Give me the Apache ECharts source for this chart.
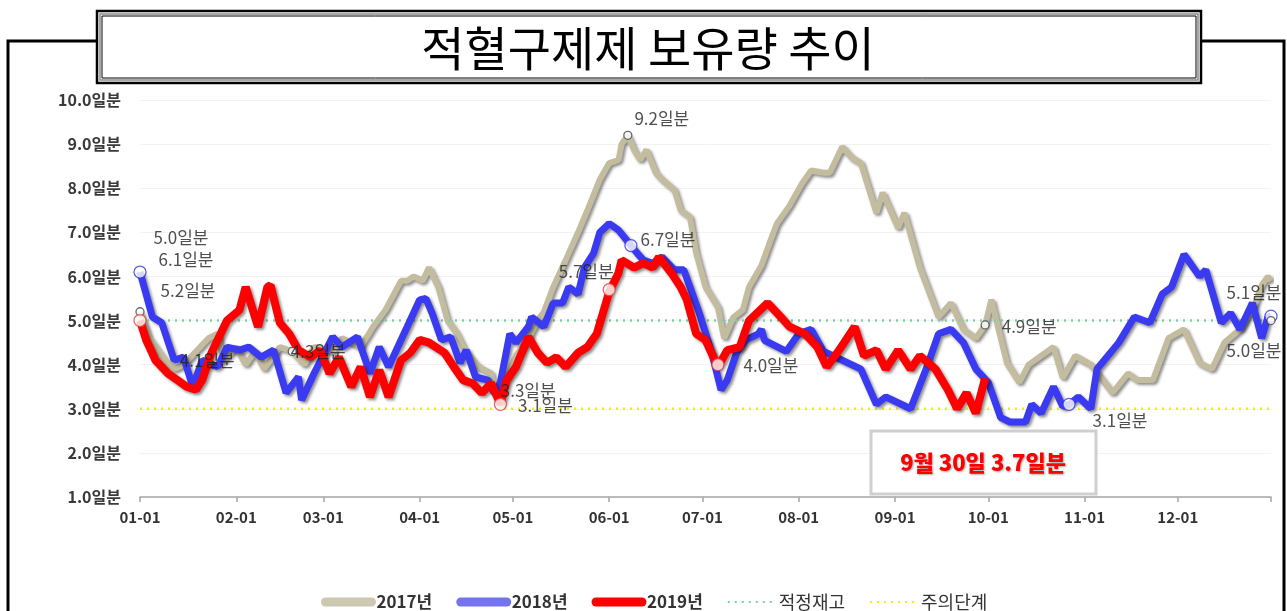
<!DOCTYPE html>
<html><head><meta charset="utf-8">
<script src="https://cdn.jsdelivr.net/npm/echarts@6/dist/echarts.min.js"></script>
<style>html,body{margin:0;padding:0;background:#fff}#c{width:1287px;height:611px}</style>
</head><body><div id="c"></div>
<script>
// ---- data (day of year index 0..364, value in 일분) ----
const monthStarts = [0,31,59,90,120,151,181,212,243,273,304,334];
const monthLabels = ['01-01','02-01','03-01','04-01','05-01','06-01','07-01','08-01','09-01','10-01','11-01','12-01'];
const yTicks = [1,2,3,4,5,6,7,8,9,10];

const days2017 = [0,3,5,8,11,14,18,22,25,27,31,34,37,40,45,49,53,56,62,65,68,71,75,79,84,86,88,91,93,96,99,102,105,109,113,115,118,121,125,128,130,133,137,141,144,148,151,154,155,157,159,161,163,166,168,172,174,177,179,182,186,188,191,194,196,200,203,205,209,213,216,220,222,226,229,232,237,239,244,246,251,257,261,265,269,272,274,279,283,286,294,297,301,306,313,318,321,326,331,336,341,345,349,354,359,361,363,364];
const vals2017 = [5.2,4.6,4.4,4.1,3.9,4.0,4.3,4.6,4.7,4.1,4.4,4.0,4.3,3.9,4.4,4.3,4.0,4.4,4.3,4.6,4.5,4.4,4.86,5.24,5.9,5.9,6.0,5.9,6.2,5.76,5.0,4.7,4.27,3.95,3.8,3.3,3.7,4.2,4.6,5.0,5.2,5.76,6.37,7.0,7.5,8.2,8.57,8.64,9.0,9.2,8.87,8.64,8.87,8.35,8.2,7.96,7.5,7.35,6.53,5.76,5.3,4.6,5.08,5.24,5.76,6.25,6.83,7.2,7.6,8.1,8.4,8.35,8.35,8.94,8.7,8.57,7.44,7.9,7.1,7.44,6.2,5.08,5.4,4.8,4.6,4.9,5.47,4.04,3.6,4.0,4.4,3.7,4.2,4.0,3.36,3.8,3.65,3.65,4.6,4.8,4.04,3.9,4.5,4.8,5.4,5.8,6.0,5.9];

const days2018 = [0,4,7,11,14,17,20,25,28,32,35,39,43,47,51,52,56,62,65,70,74,77,80,84,86,90,92,94,97,100,103,105,108,112,114,116,119,121,125,126,130,133,136,138,141,143,146,148,151,154,158,160,162,165,168,172,175,177,180,184,187,189,192,195,199,200,201,208,212,216,220,229,232,237,240,248,253,257,261,265,269,273,277,280,285,287,290,294,297,299,302,306,308,313,315,320,325,329,332,336,341,343,348,351,354,358,361,363,364];
const vals2018 = [6.1,5.08,4.95,4.1,4.17,3.5,4.1,3.95,4.4,4.33,4.4,4.17,4.33,3.36,3.72,3.2,3.8,4.63,4.4,4.63,3.8,4.4,3.95,4.56,4.86,5.47,5.5,5.17,4.56,4.63,4.04,4.33,3.72,3.65,3.36,3.6,4.7,4.5,4.86,5.08,4.86,5.4,5.4,5.76,5.6,6.2,6.53,7.0,7.2,7.05,6.7,6.53,6.37,6.3,6.44,6.15,6.15,5.76,5.17,4.27,3.43,3.65,4.27,4.56,4.7,4.8,4.55,4.3,4.7,4.8,4.3,4.0,3.9,3.1,3.27,3.0,3.9,4.7,4.8,4.5,3.9,3.6,2.8,2.7,2.7,3.1,2.9,3.5,3.05,3.1,3.27,3.0,3.9,4.33,4.5,5.08,4.95,5.6,5.76,6.5,6.0,6.15,4.95,5.17,4.8,5.4,4.6,5.08,5.1];

const days2019 = [0,2,5,9,12,15,18,20,23,28,32,34,38,41,42,45,48,51,55,58,61,64,68,71,74,77,80,84,87,90,93,98,101,104,107,110,113,116,118,121,125,128,131,134,137,141,144,147,151,154,155,159,162,165,167,171,174,176,179,182,186,189,193,196,202,206,209,214,218,221,225,230,233,237,240,244,248,251,256,260,263,266,269,272];
const vals2019 = [5.0,4.56,4.1,3.8,3.65,3.5,3.43,3.65,4.27,5.0,5.24,5.76,4.86,5.76,5.8,4.95,4.7,4.33,4.17,4.33,3.8,4.17,3.5,3.95,3.27,3.88,3.27,4.1,4.27,4.56,4.5,4.27,3.95,3.65,3.58,3.36,3.58,3.1,3.65,3.95,4.63,4.27,4.04,4.17,3.95,4.27,4.4,4.7,5.65,6.08,6.37,6.2,6.3,6.2,6.44,6.08,5.76,5.47,4.7,4.56,3.95,4.33,4.4,5.0,5.4,5.1,4.86,4.7,4.4,3.95,4.33,4.86,4.2,4.33,3.9,4.33,3.9,4.2,3.9,3.43,3.0,3.36,2.9,3.7];

const targetLevel = 5.0;   // 적정재고
const warnLevel = 3.0;     // 주의단계

// annotation points: series, day, value, text
const noteSeries = ['2017','2018','2019','2018','2017','2018','2019','2019','2018','2017','2019','2017','2018','2018','2017'];
const noteDays   = [0,0,0,12,49,114,116,151,158,157,186,272,299,364,364];
const noteValues = [5.2,6.1,5.0,4.1,4.3,3.3,3.1,5.7,6.7,9.2,4.0,4.9,3.1,5.1,5.0];
const noteTexts  = ['5.2일분','6.1일분','5.0일분','4.1일분','4.3일분','3.3일분','3.1일분','5.7일분','6.7일분','9.2일분','4.0일분','4.9일분','3.1일분','5.1일분','5.0일분'];
const calloutText = '9월 30일 3.7일분';

// ---- presentation ----
const FONT = '"Noto Sans CJK KR","Noto Sans",sans-serif';
const zip = (d, v) => d.map((x, i) => [x, v[i]]);
const noteOffsets = [[48,-21],[46,-12],[41,-83],[30,0],[26,0],[34,-5],[45,1],[-23,-18],[37,-6],[34,-17],[53,1],[44,2],[51,16],[-17,-24],[-17,30]];
const noteShow    = [true,true,true,false,true,false,true,true,true,true,true,true,true,true,true];
const noteBorder  = {'2017':'#444','2018':'#3636e8','2019':'#e04040'};
const noteSize    = {'2017':8,'2018':12,'2019':12};

const shadow = {shadowColor:'rgba(0,0,0,0.45)', shadowBlur:3, shadowOffsetX:2, shadowOffsetY:2};

const chart = echarts.init(document.getElementById('c'), null, {renderer:'canvas'});
chart.setOption({
  animation:false,
  backgroundColor:'#fff',
  textStyle:{fontFamily:FONT},
  grid:{left:140, right:16, top:100, bottom:114, containLabel:false},
  xAxis:{
    type:'value', min:0, max:364,
    axisLine:{show:true, lineStyle:{color:'#a6a6a6', width:1.5}},
    axisTick:{show:true, customValues:monthStarts.concat([364]), length:5, lineStyle:{color:'#a6a6a6', width:1.5}},
    axisLabel:{customValues:monthStarts, formatter:v => monthLabels[monthStarts.indexOf(v)] || '',
      fontWeight:'bold', fontSize:15, color:'#333', margin:13, fontFamily:FONT},
    splitLine:{show:false}
  },
  yAxis:{
    type:'value', min:1, max:10, interval:1,
    axisLabel:{formatter:v => yTicks.includes(v) ? v.toFixed(1)+'일분' : '', fontWeight:'bold', fontSize:16, color:'#3a3a3a', margin:19, fontFamily:FONT},
    axisLine:{show:false}, axisTick:{show:false},
    splitLine:{show:true, lineStyle:{color:'#f2f2f2', width:1}}
  },
  legend:{
    top:588, left:316, itemWidth:46, itemHeight:12, itemGap:24,
    itemStyle:{opacity:0},
    data:[
      {name:'2017년', textStyle:{fontWeight:'bold'}, lineStyle:{width:9, cap:'round', color:'#cdc8b2'}},
      {name:'2018년', textStyle:{fontWeight:'bold'}, lineStyle:{width:9, cap:'round', color:'#7474ee'}},
      {name:'2019년', textStyle:{fontWeight:'bold'}, lineStyle:{width:9, cap:'round', color:'#ff0000'}},
      {name:'적정재고', textStyle:{fontSize:18}},
      {name:'주의단계', textStyle:{fontSize:18}}
    ],
    textStyle:{fontSize:17, color:'#333', fontFamily:FONT}
  },
  series:[
    {name:'2017년', type:'line', data:zip(days2017, vals2017), showSymbol:false, symbol:'none', z:2,
      lineStyle:Object.assign({color:'#c4bc9f', width:6}, shadow), itemStyle:{color:'#c9c3ab'}},
    {name:'적정재고', type:'line', data:[[0,targetLevel],[364,targetLevel]], showSymbol:false, symbol:'none', z:3,
      lineStyle:{color:'#7fd0a4', width:2.5, type:[2,5]}, itemStyle:{color:'#7fd0a4'}},
    {name:'주의단계', type:'line', data:[[0,warnLevel],[364,warnLevel]], showSymbol:false, symbol:'none', z:3,
      lineStyle:{color:'#eeee10', width:2.5, type:[2,5]}, itemStyle:{color:'#eeee10'}},
    {name:'2018년', type:'line', data:zip(days2018, vals2018), showSymbol:false, symbol:'none', z:4,
      lineStyle:Object.assign({color:'#3a3af2', width:7}, shadow), itemStyle:{color:'#7878ee'}},
    {name:'2019년', type:'line', data:zip(days2019, vals2019), showSymbol:false, symbol:'none', z:5,
      lineStyle:Object.assign({color:'#ff0000', width:8}, shadow), itemStyle:{color:'#ff0000'}},
    {type:'scatter', z:8, silent:true,
      data:noteDays.map((d, i) => ({
        value:[d, noteValues[i]],
        symbolSize: noteShow[i] ? noteSize[noteSeries[i]] : 0,
        itemStyle:{color:'#fff', borderColor:noteBorder[noteSeries[i]], borderWidth:1.3},
        label:{show:true, formatter:noteTexts[i], position:'inside', offset:noteOffsets[i],
          fontSize:17, color:'#222', fontFamily:FONT}
      }))
    }
  ],
  graphic:[
    // outer frame
    {type:'polyline', z:100, shape:{points:[[98,41],[8,41],[8,611]]}, style:{stroke:'#000', lineWidth:3, fill:null}},
    {type:'polyline', z:100, shape:{points:[[1200,41],[1284,41],[1284,611]]}, style:{stroke:'#000', lineWidth:3, fill:null}},
    // title box
    {type:'rect', z:101, shape:{x:97, y:11, width:1104, height:72}, style:{fill:'#fff', stroke:'#000', lineWidth:2.5}},
    {type:'rect', z:102, shape:{x:100, y:14, width:1098, height:66}, style:{fill:null, stroke:'#8a8a8a', lineWidth:1.5}},
    {type:'rect', z:102, shape:{x:102, y:16, width:1094, height:62}, style:{fill:null, stroke:'#000', lineWidth:1}},
    {type:'text', z:103, x:648, y:48, style:{text:'적혈구제제 보유량 추이', font:'normal 47px "Noto Sans CJK KR"', fill:'#000', align:'center', verticalAlign:'middle'}},
    // callout
    {type:'rect', z:90, shape:{x:871, y:431, width:225, height:63}, style:{fill:'#fff', stroke:'#cfcfcf', lineWidth:3}},
    {type:'text', z:91, x:983, y:463, style:{text:calloutText, font:'900 22px "Noto Sans CJK KR"', fill:'#ff0000', align:'center', verticalAlign:'middle',
      textShadowColor:'rgba(0,0,0,0.35)', textShadowBlur:2, textShadowOffsetX:1, textShadowOffsetY:1}}
  ]
});
</script></body></html>
